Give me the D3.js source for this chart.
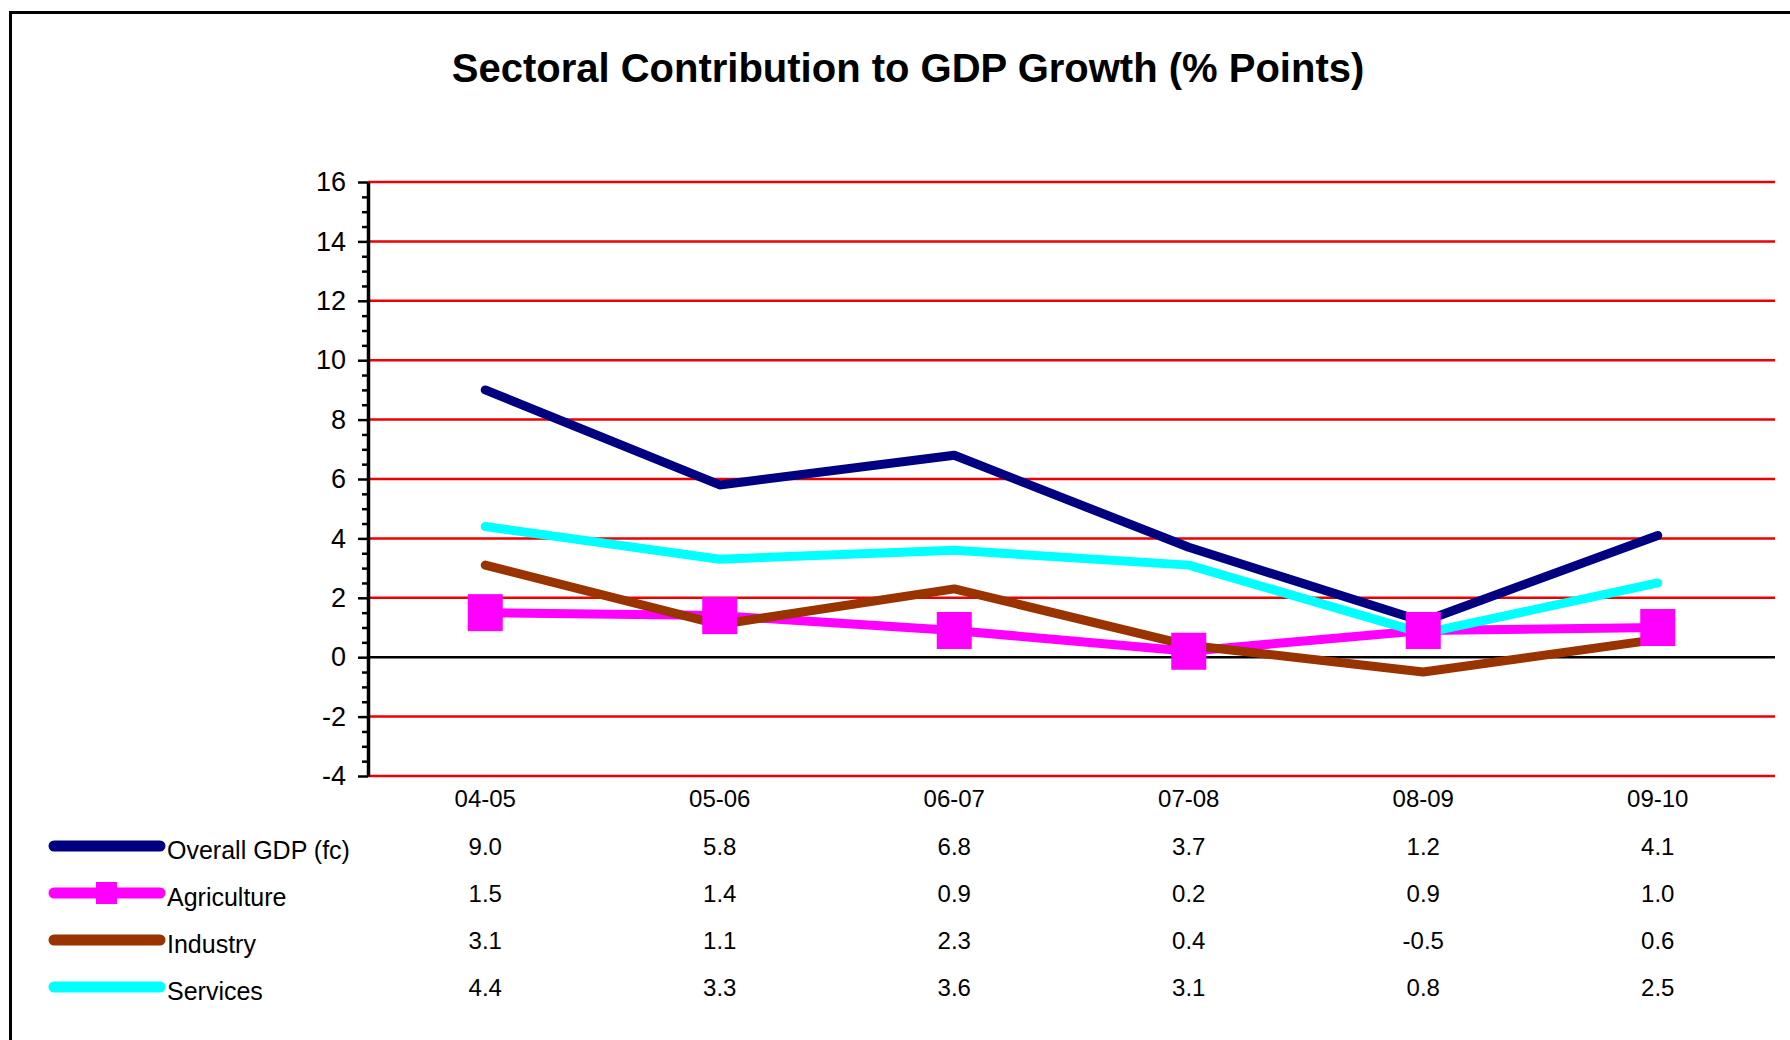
<!DOCTYPE html>
<html>
<head>
<meta charset="utf-8">
<script src="https://cdn.jsdelivr.net/npm/d3@7/dist/d3.min.js"></script>
<style>
  html, body { margin: 0; padding: 0; background: #ffffff; }
  svg { display: block; }
  text { font-family: "Liberation Sans", Arial, Helvetica, sans-serif; fill: #000; }
</style>
</head>
<body>
<svg id="chart" width="1790" height="1040"></svg>
<script>
// Fiscal years on the category axis
const years = ["04-05", "05-06", "06-07", "07-08", "08-09", "09-10"];

// Contribution to GDP growth, percentage points
const overallGDP  = [9.0, 5.8, 6.8, 3.7, 1.2, 4.1];
const agriculture = [1.5, 1.4, 0.9, 0.2, 0.9, 1.0];
const industry    = [3.1, 1.1, 2.3, 0.4, -0.5, 0.6];
const services    = [4.4, 3.3, 3.6, 3.1, 0.8, 2.5];

const seriesNames = ["Overall GDP (fc)", "Agriculture", "Industry", "Services"];
const seriesColors = ["#000080", "#ff00ff", "#993300", "#00ffff"];

const yTicks = [-4, -2, 0, 2, 4, 6, 8, 10, 12, 14, 16];
const title = "Sectoral Contribution to GDP Growth (% Points)";

const series = [overallGDP, agriculture, industry, services].map((vals, i) => ({
  name: seriesNames[i], color: seriesColors[i], values: vals
}));

// plain hyphen for negatives
const fmtInt = v => String(v);
const fmt1 = v => v.toFixed(1);

const svg = d3.select("#chart");

// outer frame
svg.append("path")
  .attr("d", "M10.5,1040 L10.5,12.5 L1790,12.5")
  .attr("fill", "none").attr("stroke", "#000").attr("stroke-width", 3);

svg.append("text")
  .attr("x", 908).attr("y", 82)
  .attr("text-anchor", "middle")
  .attr("font-size", 40).attr("font-weight", "bold")
  .text(title);

const plot = { left: 368, right: 1775, top: 182, bottom: 776 };

const x = d3.scaleBand().domain(years).range([plot.left, plot.right]);
const xc = d => x(d) + x.bandwidth() / 2;
const y = d3.scaleLinear().domain([-4, 16]).range([plot.bottom, plot.top]);

// horizontal grid lines
svg.append("g").selectAll("line")
  .data(yTicks.filter(v => v !== 0))
  .join("line")
  .attr("x1", plot.left).attr("x2", plot.right)
  .attr("y1", d => y(d)).attr("y2", d => y(d))
  .attr("stroke", "#ee0000").attr("stroke-width", 2.5);

// zero line
svg.append("line")
  .attr("x1", plot.left).attr("x2", plot.right)
  .attr("y1", y(0)).attr("y2", y(0))
  .attr("stroke", "#000").attr("stroke-width", 2.5);

// minor ticks every 0.5
const minor = d3.range(-4, 16.01, 0.5).filter(v => Math.abs(v % 2) > 1e-9);
svg.append("g")
  .attr("transform", `translate(${plot.left},0)`)
  .call(d3.axisLeft(y).tickValues(minor).tickSize(6).tickFormat(""))
  .call(g => g.select(".domain").remove())
  .call(g => g.selectAll(".tick line").attr("stroke", "#000").attr("stroke-width", 2.5));

// major axis
svg.append("g")
  .attr("transform", `translate(${plot.left},0)`)
  .call(d3.axisLeft(y).tickValues(yTicks).tickSize(10).tickSizeOuter(0).tickPadding(12).tickFormat(fmtInt))
  .call(g => g.select(".domain").attr("stroke", "#000").attr("stroke-width", 3.5))
  .call(g => g.selectAll(".tick line").attr("stroke", "#000").attr("stroke-width", 2.5))
  .call(g => g.selectAll(".tick text")
    .attr("font-size", 27)
    .attr("font-family", "Liberation Sans, Arial, sans-serif")
    .attr("fill", "#000"));

// category labels under the plot
svg.append("g").selectAll("text")
  .data(years)
  .join("text")
  .attr("x", d => xc(d)).attr("y", 807)
  .attr("text-anchor", "middle").attr("font-size", 24)
  .text(d => d);

// series lines
const line = d3.line().x((d, i) => xc(years[i])).y(d => y(d));
svg.append("g").selectAll("path")
  .data(series)
  .join("path")
  .attr("d", s => line(s.values))
  .attr("fill", "none")
  .attr("stroke", s => s.color)
  .attr("stroke-width", 9)
  .attr("stroke-linejoin", "round")
  .attr("stroke-linecap", "round");

// agriculture square markers
const sqW = 35, sqH = 37;
svg.append("g").selectAll("rect")
  .data(agriculture)
  .join("rect")
  .attr("x", (d, i) => xc(years[i]) - sqW / 2)
  .attr("y", d => y(d) - sqH / 2)
  .attr("width", sqW).attr("height", sqH)
  .attr("fill", "#ff00ff");

// data table with legend keys
const rowY = [846, 893, 940, 987];
const table = svg.append("g");
series.forEach((s, r) => {
  const cy = rowY[r];
  table.append("line")
    .attr("x1", 54).attr("x2", 160)
    .attr("y1", cy).attr("y2", cy)
    .attr("stroke", s.color).attr("stroke-width", 11)
    .attr("stroke-linecap", "round");
  if (s.name === "Agriculture") {
    table.append("rect")
      .attr("x", 96).attr("y", cy - 11)
      .attr("width", 21).attr("height", 22)
      .attr("fill", s.color);
  }
  table.append("text")
    .attr("x", 167).attr("y", cy + 13)
    .attr("font-size", 25)
    .text(s.name);
  table.selectAll(null)
    .data(s.values)
    .join("text")
    .attr("x", (d, i) => xc(years[i])).attr("y", cy + 9)
    .attr("text-anchor", "middle").attr("font-size", 24)
    .text(d => fmt1(d));
});
</script>
</body>
</html>
